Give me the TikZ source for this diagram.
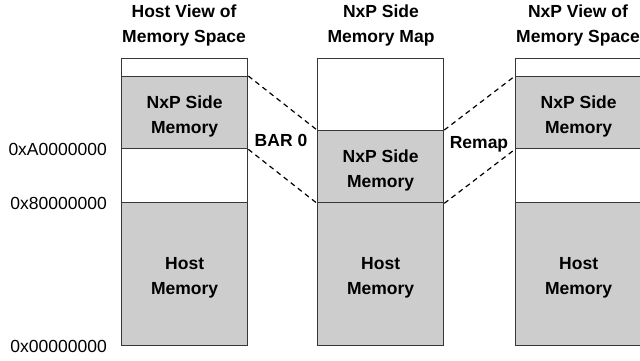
\documentclass[tikz,border=0pt]{standalone}
\usepackage{fontspec}
\setmainfont{Liberation Sans}
\definecolor{memgray}{RGB}{205,205,205}
\definecolor{edgegray}{RGB}{55,55,55}
\tikzset{
  cell/.style={draw=edgegray, line width=1.3pt, minimum width=126pt,
    inner sep=0pt, anchor=north west, fill=white},
  memcell/.style={cell, fill=memgray},
  celltext/.style={align=center, inner sep=0pt, yshift=-3.5pt,
    font=\bfseries\fontsize{17.5}{25}\selectfont},
  coltitle/.style={align=center, inner sep=0pt,
    font=\bfseries\fontsize{17.5}{25}\selectfont},
  addr/.style={anchor=east, inner sep=0pt, font=\fontsize{17.5}{21}\selectfont},
  maptext/.style={anchor=base, inner sep=0pt, font=\bfseries\fontsize{17.5}{21}\selectfont},
  maplink/.style={draw=black, line width=1.2pt, dash pattern=on 5pt off 4pt}
}
\begin{document}
\begin{tikzpicture}[x=1pt, y=-1pt]
\clip (0,0) rectangle (640,360);

% column titles
\node[coltitle] (ta) at (184,25.75) {Host View of\\Memory Space};
\node[coltitle] (tb) at (381,25.75) {NxP Side\\Memory Map};
\node[coltitle] (tc) at (578,25.75) {NxP View of\\Memory Space};

% host view of memory space
\node[cell,    minimum height=18pt]  (a1) at (121,58)  {};
\node[memcell, minimum height=72pt]  (a2) at (121,76)  {};
\node[cell,    minimum height=54pt]  (a3) at (121,148) {};
\node[memcell, minimum height=143pt] (a4) at (121,202) {};
\node[celltext] (a2t) at (a2.center) {NxP Side\\Memory};
\node[celltext] (a4t) at (a4.center) {Host\\Memory};

% NxP side memory map
\node[cell,    minimum height=72pt]  (b1) at (317,58)  {};
\node[memcell, minimum height=72pt]  (b2) at (317,130) {};
\node[memcell, minimum height=143pt] (b3) at (317,202) {};
\node[celltext] (b2t) at (b2.center) {NxP Side\\Memory};
\node[celltext] (b3t) at (b3.center) {Host\\Memory};

% NxP view of memory space
\node[cell,    minimum height=18pt]  (c1) at (515,58)  {};
\node[memcell, minimum height=72pt]  (c2) at (515,76)  {};
\node[cell,    minimum height=54pt]  (c3) at (515,148) {};
\node[memcell, minimum height=143pt] (c4) at (515,202) {};
\node[celltext] (c2t) at (c2.center) {NxP Side\\Memory};
\node[celltext] (c4t) at (c4.center) {Host\\Memory};

% address marks
\node[addr] (ad1) at (107,149.5) {0xA0000000};
\node[addr] (ad2) at (107,203.5) {0x80000000};
\node[addr] (ad3) at (107,346.5) {0x00000000};

% window mappings
\draw[maplink] (a2.north east) -- (b2.north west);
\draw[maplink] (a2.south east) -- (b2.south west);
\draw[maplink] (b2.north east) -- (c2.north west);
\draw[maplink] (b2.south east) -- (c2.south west);
\node[maptext] (bar) at (281,146.7) {BAR 0};
\node[maptext] (remap) at (479,148) {Remap};
\end{tikzpicture}
\end{document}
